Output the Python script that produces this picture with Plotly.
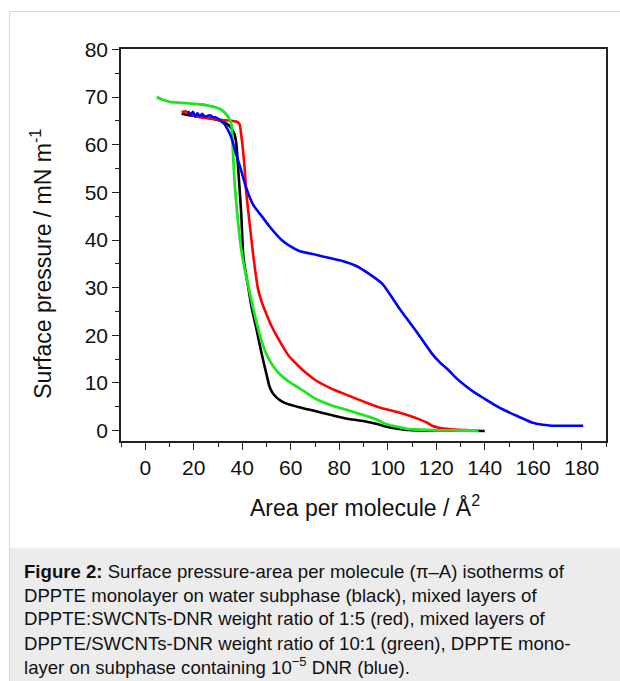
import plotly.graph_objects as go

# ---- data ----
black_x = [15, 18, 22, 26, 30, 33, 35, 36.8, 37.6, 38.2, 39, 39.6, 40.5, 42.5, 44, 45.7, 47, 48.5, 50, 51.2, 52.5, 54, 55.5, 58, 63.5, 70, 77.2, 84, 90.9, 96, 100.5, 104, 108.8, 115, 125, 140]
black_y = [66.5, 66.2, 66, 65.6, 65.2, 64.6, 63.8, 62.2, 60, 55.9, 50, 45.4, 36.3, 30, 25.5, 21.7, 18.5, 15, 11.8, 9.3, 7.9, 7.0, 6.4, 5.7, 4.9, 4.1, 3.2, 2.4, 1.9, 1.3, 0.7, 0.4, 0.1, 0, 0, -0.1]

red_x = [15, 16.5, 18, 21, 25, 30, 34, 36.1, 38, 38.9, 39.6, 40.2, 41, 41.6, 42.7, 43.7, 44.6, 46.4, 48, 49.9, 52, 55.3, 59, 63.5, 67, 70.4, 77.2, 84, 90.9, 97, 104.6, 109, 112.8, 116, 118.3, 121, 123.8, 127, 130.6, 133]
red_y = [66.8, 67, 66.6, 66, 65.6, 65.3, 65.1, 65, 64.8, 64.3, 62, 59.4, 55, 50.3, 45, 40.5, 36.5, 30, 27, 24.5, 22, 18.9, 15.8, 13.4, 11.8, 10.5, 8.7, 7.3, 5.9, 4.8, 3.8, 3.1, 2.4, 1.7, 1.0, 0.6, 0.35, 0.2, 0.1, 0.1]

green_x = [4.7, 7, 10.1, 15, 22.5, 26, 29.3, 31.5, 33.4, 34.6, 35.5, 36.1, 36.8, 37.5, 38.2, 39.2, 40.2, 42.3, 44.4, 47.1, 49.9, 52.5, 55.3, 59, 63.5, 70.4, 77.2, 84, 90.9, 94.5, 97.8, 101, 104.6, 108, 112.8, 120, 130, 137.4]
green_y = [70, 69.5, 69, 68.8, 68.5, 68.2, 67.8, 67.3, 66.4, 65.5, 64.3, 59.4, 52.4, 48, 44, 39.5, 36, 30.8, 25.9, 20.3, 16.1, 13.7, 11.9, 10.3, 8.9, 6.6, 5.2, 4.2, 3.1, 2.5, 1.7, 1.1, 0.7, 0.35, 0.2, 0.05, 0, 0]

blue_x = [17.7, 18.5, 19.7, 20.5, 21.5, 22.5, 23.5, 24.5, 26.6, 28, 29.3, 31, 32.7, 34, 35.5, 37.5, 39.6, 41.6, 44.4, 46.5, 48.5, 51, 54, 56.5, 59.4, 63.5, 70.4, 76, 81.3, 86.8, 92.3, 97.8, 101, 104.6, 108, 111.5, 115, 118.3, 121.5, 125.2, 128.5, 132, 136, 140.2, 144, 148.4, 154, 159.4, 164, 167.6, 172, 180.6]
blue_y = [67.1, 66.3, 66.9, 65.9, 66.6, 66.0, 66.5, 65.9, 66.2, 65.8, 65.7, 65.1, 64.3, 63.2, 61.5, 58, 54.5, 51, 47.5, 46, 44.7, 43, 41.2, 39.9, 38.8, 37.7, 36.9, 36.2, 35.6, 34.6, 32.9, 30.8, 28.5, 25.8, 23.4, 21, 18.5, 16.1, 14.3, 12.6, 10.9, 9.4, 7.9, 6.6, 5.4, 4.2, 2.9, 1.7, 1.2, 1.0, 1.0, 1.0]

x_ticks = [0, 20, 40, 60, 80, 100, 120, 140, 160, 180]
y_ticks = [0, 10, 20, 30, 40, 50, 60, 70, 80]

caption_lines = [
    "<b>Figure 2:</b> Surface pressure-area per molecule (π–A) isotherms of",
    "DPPTE monolayer on water subphase (black), mixed layers of",
    "DPPTE:SWCNTs-DNR weight ratio of 1:5 (red), mixed layers of",
    "DPPTE/SWCNTs-DNR weight ratio of 10:1 (green), DPPTE mono-",
    "layer on subphase containing 10<sup>−5</sup> DNR (blue).",
]

FONT = "Liberation Sans, Arial, sans-serif"

fig = go.Figure()
for xs, ys, col, w in [(black_x, black_y, "#000000", 2.6),
                       (red_x, red_y, "#ff0000", 2.6),
                       (green_x, green_y, "#1ee61e", 2.8),
                       (blue_x, blue_y, "#0000ff", 2.6)]:
    fig.add_trace(go.Scatter(x=xs, y=ys, mode="lines", line=dict(color=col, width=w, shape="spline", smoothing=0.6),
                             showlegend=False, hoverinfo="skip"))

# plot area in pixels: left 121, right 608, top 48.5, bottom 440.7
W, H = 620, 681
L, R, T, B = 121, 608, 48.5, 440.7
def px(xp):
    return (xp - L) / (R - L)
def py(yp):
    return (B - yp) / (B - T)

axis_common = dict(showline=True, linecolor="#222222", linewidth=1.5, mirror=True,
                   ticks="outside", tickcolor="#222222", tickwidth=1.3, ticklen=7,
                   showgrid=False, zeroline=False,
                   tickfont=dict(family=FONT, size=21, color="#111111"))

fig.update_xaxes(range=[-10, 190], tickvals=x_ticks,
                 minor=dict(ticks="outside", ticklen=4, dtick=10, tick0=0, tickcolor="#222222", tickwidth=1.3),
                 **axis_common)
fig.update_yaxes(range=[-2.2, 80.1], tickvals=y_ticks,
                 minor=dict(ticks="outside", ticklen=4, dtick=5, tick0=0, tickcolor="#222222", tickwidth=1.3),
                 **axis_common)

shapes = [
    # caption background
    dict(type="rect", xref="paper", yref="paper", x0=px(9), x1=px(630), y0=py(548), y1=py(700),
         fillcolor="#ececec", line=dict(width=0), layer="below"),
    # outer frame lines
    dict(type="line", xref="paper", yref="paper", x0=px(9), x1=px(630), y0=py(11), y1=py(11),
         line=dict(color="#d8d8d8", width=1)),
    dict(type="line", xref="paper", yref="paper", x0=px(9), x1=px(9), y0=py(11), y1=py(700),
         line=dict(color="#d8d8d8", width=1)),
]

annotations = [
    dict(text="Area per molecule / Å<sup>2</sup>", xref="paper", yref="paper", x=px(366), y=py(506),
         xanchor="center", yanchor="middle", showarrow=False, font=dict(family=FONT, size=23, color="#111111")),
    dict(text="Surface pressure / mN m<sup>-1</sup>", xref="paper", yref="paper", x=px(41), y=py(263),
         xanchor="center", yanchor="middle", textangle=-90, showarrow=False,
         font=dict(family=FONT, size=23, color="#111111")),
]
cap_y = [571, 595, 618, 643, 666]
for t, yy in zip(caption_lines, cap_y):
    annotations.append(dict(text=t, xref="paper", yref="paper", x=px(22), y=py(yy), xanchor="left",
                            yanchor="middle", showarrow=False, align="left",
                            font=dict(family=FONT, size=18.6, color="#111111")))

fig.update_layout(width=W, height=H, margin=dict(l=L, r=W - R, t=T, b=H - B),
                  paper_bgcolor="white", plot_bgcolor="white",
                  shapes=shapes, annotations=annotations)

fig.write_html("out.html", config={"displayModeBar": False},
               post_script="document.body.style.margin='0';document.body.style.padding='0';")
